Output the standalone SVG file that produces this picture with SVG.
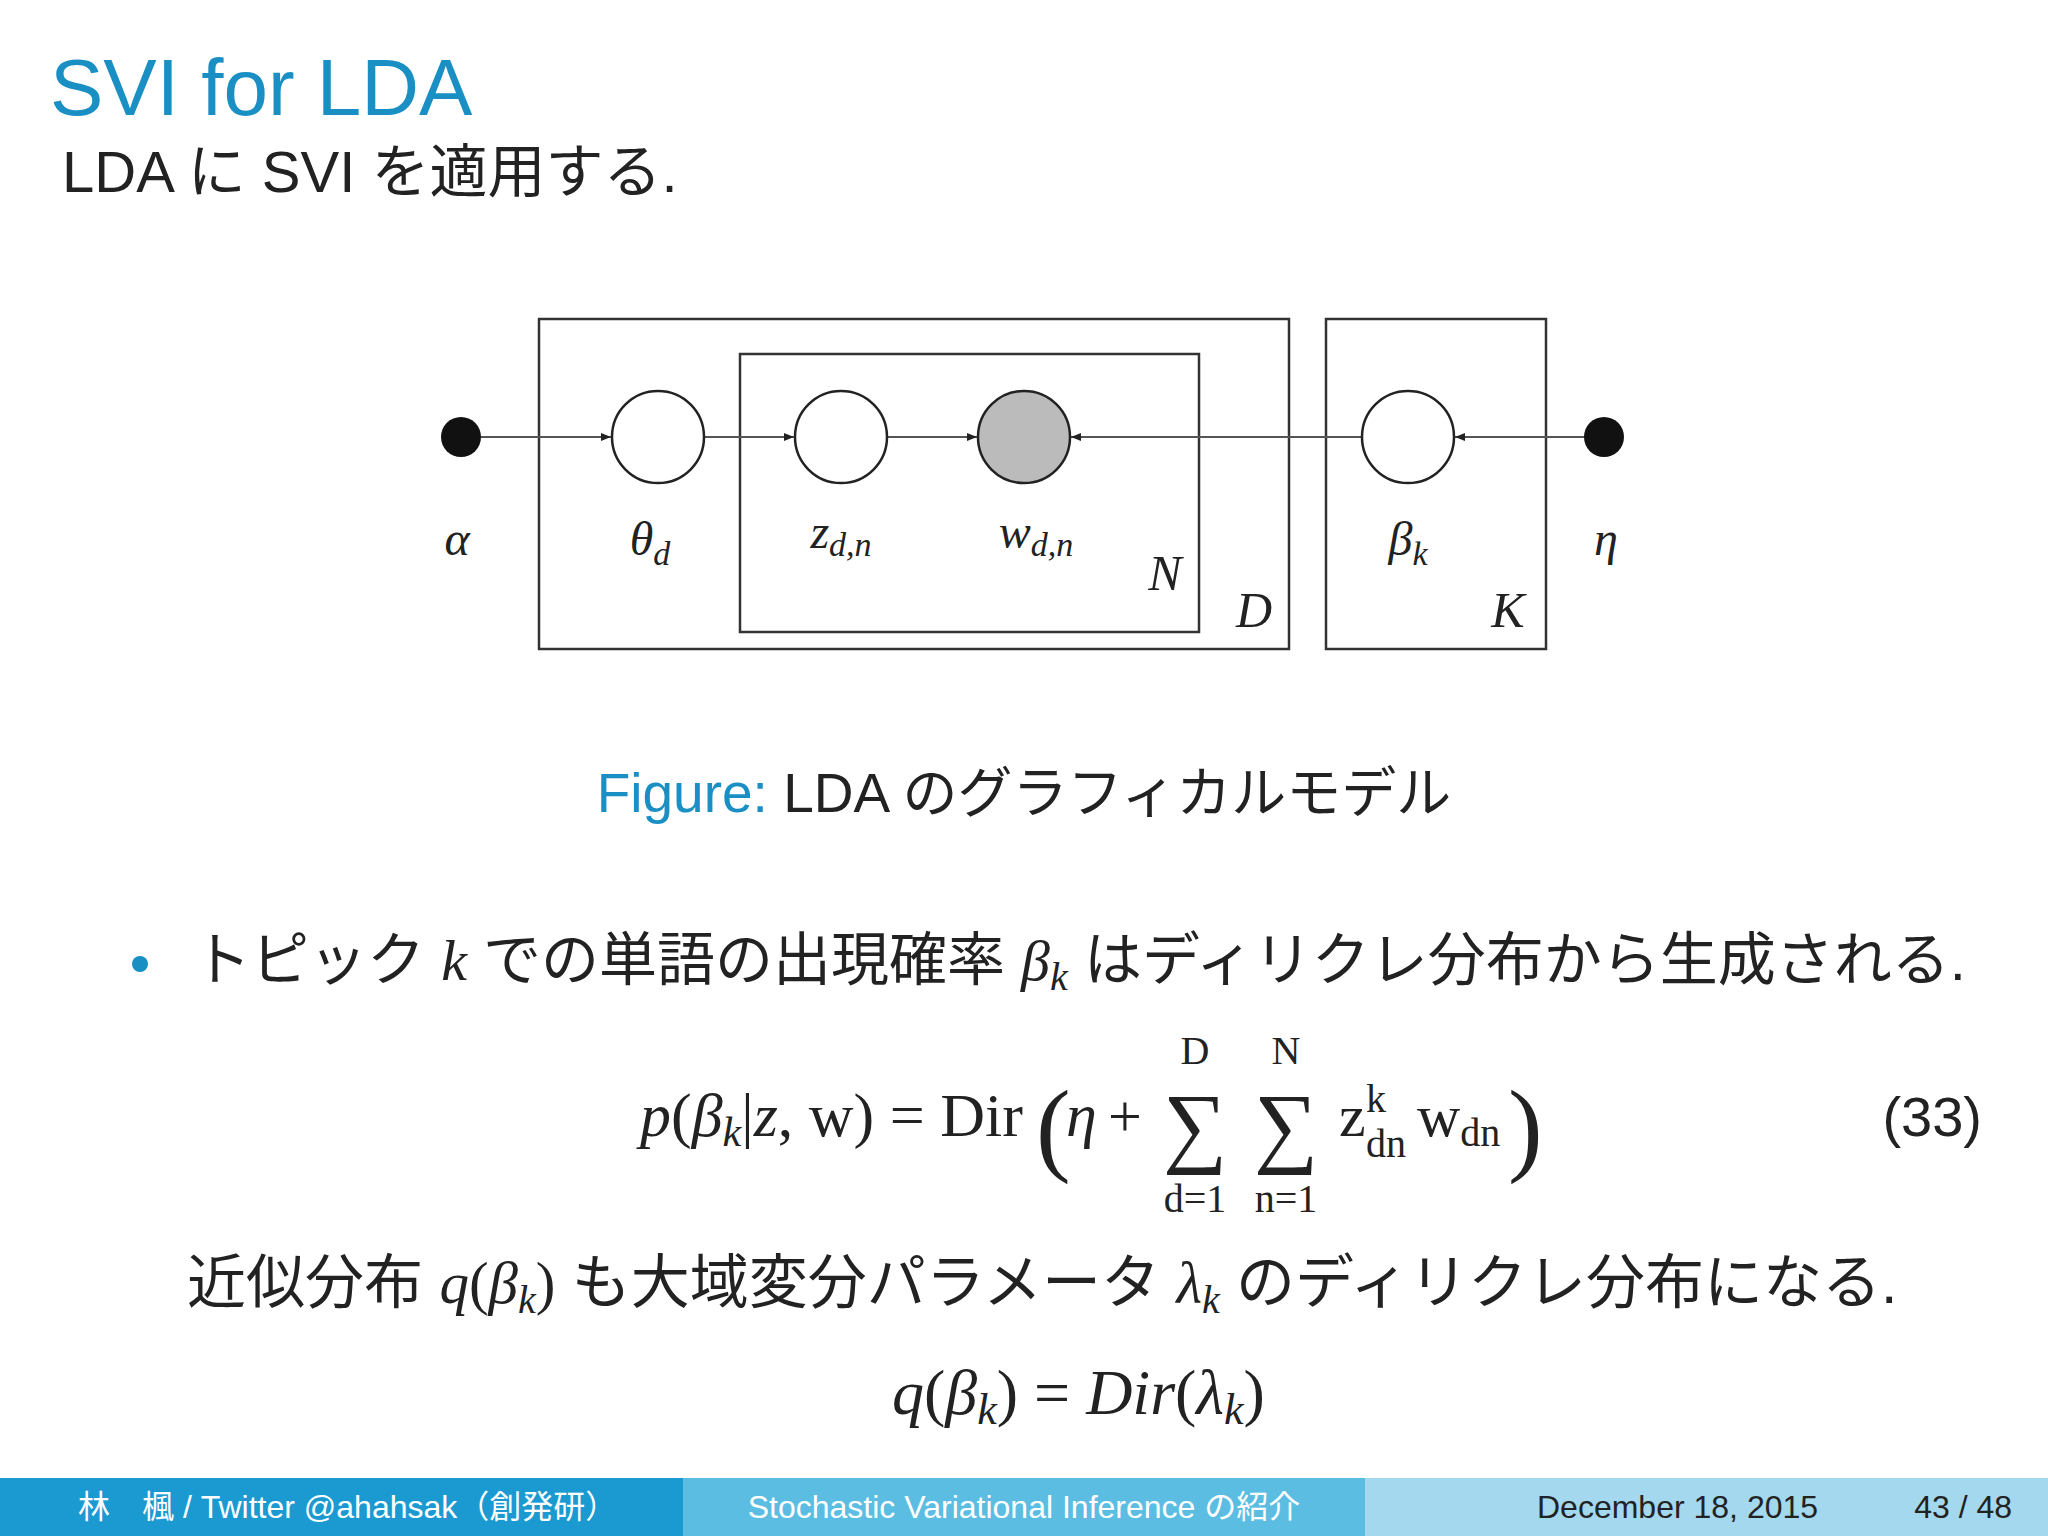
<svg xmlns="http://www.w3.org/2000/svg" width="2048" height="1536" viewBox="0 0 2048 1536">
<style>
.jp{font-family:"Liberation Sans","Noto Sans CJK JP",sans-serif;fill:#222}
.m{font-family:"Liberation Serif",serif;font-style:italic;fill:#222}
.r{font-family:"Liberation Serif",serif;fill:#222}
.box{fill:none;stroke:#333;stroke-width:2.5}
.ln{stroke:#555;stroke-width:2;fill:none}
.c{fill:#fff;stroke:#222;stroke-width:2.5}
.ft{font-family:"Liberation Sans","Noto Sans CJK JP",sans-serif;font-size:32px}
</style>
<defs><marker id="a" markerWidth="10" markerHeight="8" refX="10" refY="4" orient="auto" markerUnits="userSpaceOnUse"><path d="M0,0 L10,4 L0,8 z" fill="#222"/></marker></defs>
<rect width="2048" height="1536" fill="#fff"/>
<text x="50" y="115" font-family="Liberation Sans,sans-serif" font-size="80" fill="#1a8fc4">SVI for LDA</text>
<text class="jp" x="62" y="192" font-size="58">LDA に SVI を適用する.</text>
<g id="plates">
<rect class="box" x="539" y="319" width="750" height="330"/>
<rect class="box" x="740" y="354" width="459" height="278"/>
<rect class="box" x="1326" y="319" width="220" height="330"/>
</g>
<g id="connectors">
<line class="ln" x1="461" y1="437" x2="611" y2="437" marker-end="url(#a)"/>
<line class="ln" x1="704" y1="437" x2="794" y2="437" marker-end="url(#a)"/>
<line class="ln" x1="887" y1="437" x2="977" y2="437" marker-end="url(#a)"/>
<line class="ln" x1="1362" y1="437" x2="1071" y2="437" marker-end="url(#a)"/>
<line class="ln" x1="1604" y1="437" x2="1455" y2="437" marker-end="url(#a)"/>
</g>
<g id="alpha"><circle cx="461" cy="437" r="20" fill="#111"/><text class="m" x="457" y="555" font-size="48" text-anchor="middle">α</text></g>
<g id="theta"><circle class="c" cx="658" cy="437" r="46"/><text class="m" x="650" y="555" font-size="48" text-anchor="middle">θ<tspan font-size="34" dy="10">d</tspan></text></g>
<g id="z"><circle class="c" cx="841" cy="437" r="46"/><text class="m" x="841" y="548" font-size="48" text-anchor="middle">z<tspan font-size="34" dy="8">d,n</tspan></text></g>
<g id="w"><circle cx="1024" cy="437" r="46" fill="#bbb" stroke="#222" stroke-width="2.5"/><text class="m" x="1036" y="548" font-size="48" text-anchor="middle">w<tspan font-size="34" dy="8">d,n</tspan></text></g>
<g id="beta"><circle class="c" cx="1408" cy="437" r="46"/><text class="m" x="1408" y="555" font-size="48" text-anchor="middle">β<tspan font-size="34" dy="10">k</tspan></text></g>
<g id="eta"><circle cx="1604" cy="437" r="20" fill="#111"/><text class="m" x="1606" y="555" font-size="48" text-anchor="middle">η</text></g>
<text class="m" x="1165" y="590" font-size="50" text-anchor="middle">N</text>
<text class="m" x="1254" y="627" font-size="50" text-anchor="middle">D</text>
<text class="m" x="1508" y="627" font-size="50" text-anchor="middle">K</text>
<text class="jp" x="1024" y="812" font-size="55" text-anchor="middle"><tspan fill="#1a8fc4">Figure:</tspan> LDA のグラフィカルモデル</text>
<circle cx="140" cy="964" r="8" fill="#1a8fc4"/>
<text class="jp" x="193" y="980" font-size="58">トピック <tspan class="m">k</tspan> での単語の出現確率 <tspan class="m">β<tspan font-size="40" dy="10">k</tspan></tspan><tspan dy="-10"> はディリクレ分布から生成される.</tspan></text>
<g id="eq33">
<text class="r" x="640" y="1136" font-size="62"><tspan class="m">p</tspan>(<tspan class="m">β<tspan font-size="42" dy="10">k</tspan></tspan><tspan dy="-10">|</tspan><tspan class="m">z</tspan>, w) = Dir</text>
<text class="r" x="1036" y="1162" font-size="104">(</text>
<text class="m" x="1066" y="1136" font-size="62">η</text>
<text class="r" x="1108" y="1136" font-size="60">+</text>
<text class="r" x="1195" y="1156" font-size="90" text-anchor="middle">∑</text>
<text class="r" x="1286" y="1156" font-size="90" text-anchor="middle">∑</text>
<text class="r" x="1195" y="1064" font-size="40" text-anchor="middle">D</text>
<text class="r" x="1286" y="1064" font-size="40" text-anchor="middle">N</text>
<text class="r" x="1195" y="1212" font-size="40" text-anchor="middle">d=1</text>
<text class="r" x="1286" y="1212" font-size="40" text-anchor="middle">n=1</text>
<text class="r" x="1339" y="1136" font-size="60">z</text>
<text class="r" x="1366" y="1112" font-size="40">k</text>
<text class="r" x="1366" y="1157" font-size="40">dn</text>
<text class="r" x="1417" y="1136" font-size="60">w<tspan font-size="40" dy="10">dn</tspan></text>
<text class="r" x="1508" y="1162" font-size="104">)</text>
<text class="jp" x="1982" y="1136" font-size="56" text-anchor="end">(33)</text>
</g>
<text class="jp" x="187" y="1303" font-size="59">近似分布 <tspan class="m">q</tspan><tspan class="r">(</tspan><tspan class="m">β<tspan font-size="40" dy="10">k</tspan></tspan><tspan class="r" dy="-10">)</tspan> も大域変分パラメータ <tspan class="m">λ<tspan font-size="40" dy="10">k</tspan></tspan><tspan dy="-10"> のディリクレ分布になる.</tspan></text>
<text class="m" x="892" y="1414" font-size="64">q<tspan font-style="normal">(</tspan>β<tspan font-size="44" dy="10">k</tspan><tspan dy="-10" font-style="normal">) = </tspan>Dir<tspan font-style="normal">(</tspan>λ<tspan font-size="44" dy="10">k</tspan><tspan dy="-10" font-style="normal">)</tspan></text>
<g id="footer">
<rect x="0" y="1478" width="683" height="58" fill="#1b9ad2"/>
<rect x="683" y="1478" width="682" height="58" fill="#5cbde2"/>
<rect x="1365" y="1478" width="683" height="58" fill="#a3d8ee"/>
<text class="ft" x="78" y="1518" fill="#fff" font-size="31">林　楓 / Twitter @ahahsak（創発研）</text>
<text class="ft" x="1024" y="1518" fill="#fff" text-anchor="middle" font-size="34">Stochastic Variational Inference の紹介</text>
<text class="ft" x="1537" y="1518" fill="#222">December 18, 2015</text>
<text class="ft" x="2012" y="1518" fill="#222" text-anchor="end">43 / 48</text>
</g>
</svg>
